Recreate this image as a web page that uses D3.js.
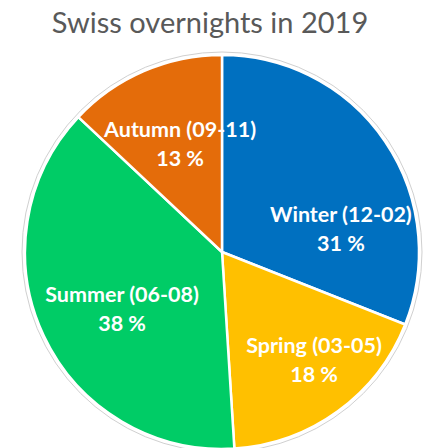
<!DOCTYPE html>
<html><head><meta charset="utf-8">
<script src="https://cdn.jsdelivr.net/npm/d3@7"></script>
<style>html,body{margin:0;padding:0;background:#fff;overflow:hidden}</style>
</head><body>
<svg id="c" width="426" height="448"></svg>
<script>
const categories = ["Winter (12-02)", "Spring (03-05)", "Summer (06-08)", "Autumn (09-11)"];
const values = [31, 18, 38, 13];
const colors = ["#0070C0", "#FFC000", "#00CC66", "#E46C0A"];
const title = "Swiss overnights in 2019";

const svg = d3.select("#c");
const cx = 222, cy = 252, r = 197;
const font = "Lato, 'Open Sans', sans-serif";

svg.append("text").attr("x", 210).attr("y", 33).attr("text-anchor", "middle")
  .attr("font-family", font).attr("font-size", 29).attr("fill", "#595959")
  .text(title);

const g = svg.append("g").attr("transform", `translate(${cx},${cy})`);
g.append("circle").attr("r", r + 3).attr("fill", "none").attr("stroke", "#d0d0d0").attr("stroke-width", 1);

const data = categories.map((c, i) => ({c, v: values[i], col: colors[i]}));
const pie = d3.pie().value(d => d.v).sort(null);
const arc = d3.arc().innerRadius(0).outerRadius(r);
const arcs = pie(data);
g.selectAll("path").data(arcs).join("path")
  .attr("d", arc).attr("fill", d => d.data.col)
  .attr("stroke", "#fff").attr("stroke-width", 2.5).attr("stroke-linejoin", "round");

// label layout (polar: degrees clockwise from top, fraction of radius)
const labelLayout = [[79.3, 0.614], [139.8, 0.724], [240.3, 0.584], [338.7, 0.586]];
const lab = g.selectAll("g.lab").data(arcs).join("g").attr("class", "lab")
  .attr("transform", (d, i) => {
    const a = labelLayout[i][0] * Math.PI / 180, rr = labelLayout[i][1] * r;
    return `translate(${rr * Math.sin(a)},${-rr * Math.cos(a)})`;
  });
lab.append("text").attr("text-anchor", "middle").attr("y", -7.5)
  .attr("font-family", font).attr("font-weight", "bold").attr("font-size", 21.5).attr("fill", "#fff")
  .text(d => d.data.c);
lab.append("text").attr("text-anchor", "middle").attr("y", 21.5)
  .attr("font-family", font).attr("font-weight", "bold").attr("font-size", 21.5).attr("fill", "#fff")
  .text(d => d.data.v + " %");
</script>
</body></html>
